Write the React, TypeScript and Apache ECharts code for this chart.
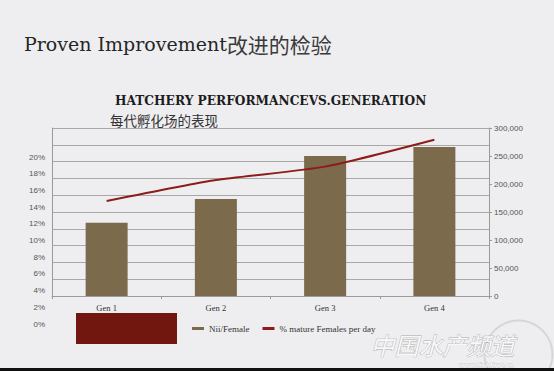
import React, { useEffect, useRef } from "react";
import * as echarts from "echarts";

const categories = ["Gen 1", "Gen 2", "Gen 3", "Gen 4"];
const niiPerFemale = [131000, 173000, 250000, 266000];
const pctMatureFemales = [0.113, 0.138, 0.154, 0.186];
const pctTickLabels = [0, 2, 4, 6, 8, 10, 12, 14, 16, 18, 20];
const rightAxisMax = 300000;
const rightAxisStep = 50000;

const BAR = "#7b6a4b";
const LINE = "#8e1c18";
const AXIS = "#9a9a9a";

export default function App() {
  const ref = useRef<HTMLDivElement>(null);
  useEffect(() => {
    if (!ref.current) return;
    const chart = echarts.init(ref.current, undefined, { renderer: "svg" });
    chart.setOption({
      animation: false,
      backgroundColor: "#eeeef0",
      title: [
        {
          text: "{a|Proven Improvement}{b|改进的检验}",
          left: 24,
          top: 31,
          padding: 0,
          textStyle: {
            fontWeight: "normal",
            rich: {
              a: { fontFamily: "DejaVu Serif", fontWeight: "normal", fontSize: 19, color: "#262626", lineHeight: 26 },
              b: { fontFamily: "Noto Sans CJK SC", fontWeight: "normal", fontSize: 21, color: "#3a3a3a", lineHeight: 26 },
            },
          },
        },
        {
          text: "HATCHERY PERFORMANCEVS.GENERATION",
          left: 115,
          top: 95,
          padding: 0,
          textStyle: { fontFamily: "DejaVu Serif", fontWeight: "bold", fontSize: 12.2, color: "#1c1c1c" },
        },
        {
          text: "每代孵化场的表现",
          left: 110,
          top: 113,
          padding: 0,
          textStyle: { fontFamily: "Noto Sans CJK SC", fontWeight: "normal", fontSize: 13.5, color: "#333" },
        },
      ],
      legend: {
        left: 187,
        top: 319,
        itemWidth: 12,
        itemHeight: 3,
        itemGap: 13,
        textStyle: { fontFamily: "Liberation Serif", fontSize: 9, color: "#333" },
        data: [
          { name: "Nii/Female", icon: "rect" },
          { name: "% mature Females per day", icon: "rect" },
        ],
      },
      grid: [
        { left: 52, top: 128, width: 437, height: 168 },
        { left: 52, top: 157, width: 437, height: 167 },
      ],
      xAxis: [
        {
          type: "category",
          gridIndex: 0,
          data: categories,
          axisLine: { lineStyle: { color: AXIS } },
          axisTick: { show: true, length: 3, lineStyle: { color: AXIS } },
          axisLabel: { fontFamily: "Liberation Serif", fontSize: 8.5, color: "#333", margin: 7 },
        },
        { type: "category", gridIndex: 1, data: categories, show: false },
      ],
      yAxis: [
        {
          type: "value",
          gridIndex: 0,
          position: "left",
          min: 0,
          max: 0.2,
          interval: 0.02,
          axisLine: { show: true, lineStyle: { color: AXIS } },
          axisTick: { show: false },
          axisLabel: { show: false },
          splitLine: { show: true, lineStyle: { color: "#a8a8a8", width: 1 } },
        },
        {
          type: "value",
          gridIndex: 0,
          position: "right",
          min: 0,
          max: rightAxisMax,
          interval: rightAxisStep,
          axisLine: { show: true, lineStyle: { color: AXIS } },
          axisTick: { show: true, length: 3, lineStyle: { color: AXIS } },
          splitLine: { show: false },
          axisLabel: {
            fontFamily: "Liberation Sans",
            fontSize: 8,
            color: "#555",
            margin: 5,
            formatter: (v: number) => v.toLocaleString("en-US"),
          },
        },
        {
          type: "value",
          gridIndex: 1,
          position: "left",
          min: pctTickLabels[0],
          max: pctTickLabels[pctTickLabels.length - 1],
          interval: pctTickLabels[1] - pctTickLabels[0],
          axisLine: { show: false },
          axisTick: { show: false },
          splitLine: { show: false },
          axisLabel: {
            fontFamily: "Liberation Sans",
            fontSize: 8,
            color: "#555",
            margin: 7,
            formatter: "{value}%",
          },
        },
      ],
      series: [
        {
          name: "Nii/Female",
          type: "bar",
          xAxisIndex: 0,
          yAxisIndex: 1,
          data: niiPerFemale,
          barWidth: 42,
          itemStyle: { color: BAR },
        },
        {
          name: "% mature Females per day",
          type: "line",
          xAxisIndex: 0,
          yAxisIndex: 0,
          data: pctMatureFemales,
          smooth: 0.2,
          showSymbol: false,
          symbol: "none",
          lineStyle: { color: LINE, width: 2 },
          itemStyle: { color: LINE },
        },
      ],
      graphic: [
        {
          type: "rect",
          left: 76,
          top: 313,
          shape: { width: 101, height: 31 },
          style: { fill: "#72170f" },
          z: 10,
        },
        {
          type: "circle",
          left: 482,
          top: 318,
          shape: { r: 34 },
          style: { fill: "none", stroke: "#d6d6d8", lineWidth: 2 },
          z: 1,
        },
        {
          type: "text",
          left: 370,
          top: 332,
          style: {
            text: "中国水产频道",
            font: "italic 24px 'Noto Sans CJK SC'",
            fill: "#f8f8f8",
            stroke: "#a9a9ab",
            lineWidth: 0.8,
          },
          z: 5,
        },
        {
          type: "text",
          right: 40,
          top: 361,
          style: {
            text: "www.fishfirst.cn",
            font: "bold 6px 'DejaVu Sans'",
            fill: "#f4f4f4",
            stroke: "#9a9a9a",
            lineWidth: 0.3,
          },
          z: 5,
        },
        {
          type: "rect",
          left: 0,
          top: 368,
          shape: { width: 554, height: 3 },
          style: { fill: "#111" },
          z: 6,
        },
        {
          type: "rect",
          left: 0,
          top: 371,
          shape: { width: 554, height: 4 },
          style: { fill: "#ffffff" },
          z: 6,
        },
      ],
    });
    return () => chart.dispose();
  }, []);
  return (
    <div
      ref={ref}
      style={{ position: "fixed", left: 0, top: 0, width: 554, height: 375 }}
    />
  );
}
